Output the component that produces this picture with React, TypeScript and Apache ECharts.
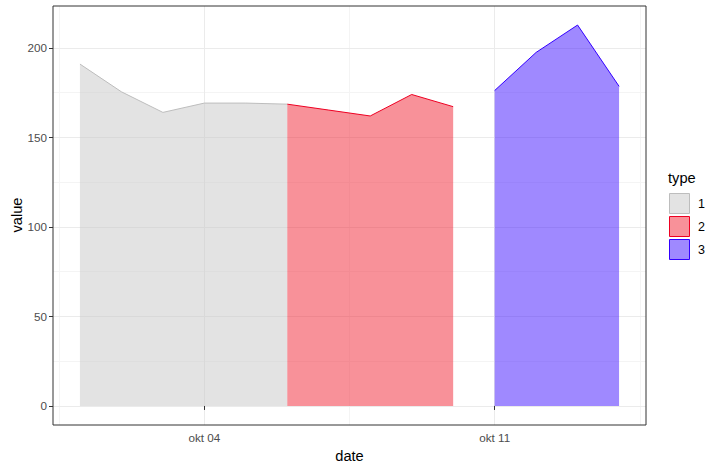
import React, { useEffect, useRef } from "react";
import * as echarts from "echarts";

const type1Dates = ["2020-10-01", "2020-10-02", "2020-10-03", "2020-10-04", "2020-10-05", "2020-10-06"];
const type1Values = [191, 175.5, 164, 169.2, 169.2, 168.6];
const type2Dates = ["2020-10-06", "2020-10-07", "2020-10-08", "2020-10-09", "2020-10-10"];
const type2Values = [168.6, 165.3, 162, 174, 167.2];
const type3Dates = ["2020-10-11", "2020-10-12", "2020-10-13", "2020-10-14"];
const type3Values = [176.2, 197.5, 212.8, 178.6];

const typeNames = ["1", "2", "3"];
const xTickDates = ["2020-10-04", "2020-10-11"];
const xMinorDates = ["2020-09-30T12:00:00Z", "2020-10-07T12:00:00Z", "2020-10-14T12:00:00Z"];
const yTicks = [0, 50, 100, 150, 200];
const yMinor = [25, 75, 125, 175, 225];

const fillColors = ["rgba(200,200,200,0.5)", "rgba(242,36,52,0.5)", "rgba(64,20,255,0.5)"];
const lineColors = ["#bdbdbd", "#ee0022", "#3300ff"];

const monthAbbr = ["jan", "feb", "mar", "apr", "maj", "jun", "jul", "aug", "sep", "okt", "nov", "dec"];
const ts = (s: string) => (s.length <= 10 ? Date.parse(s + "T00:00:00Z") : Date.parse(s));

export default function App() {
  const ref = useRef<HTMLDivElement>(null);
  useEffect(() => {
    if (!ref.current) return;
    const chart = echarts.init(ref.current, undefined, { renderer: "svg" });
    const allDates = [...type1Dates, ...type2Dates, ...type3Dates].map(ts);
    const dMin = Math.min(...allDates);
    const dMax = Math.max(...allDates);
    const xPad = (dMax - dMin) * 0.05;
    const allVals = [0, ...type1Values, ...type2Values, ...type3Values];
    const vMin = Math.min(...allVals);
    const vMax = Math.max(...allVals);
    const yPad = (vMax - vMin) * 0.05;
    const xMin = dMin - xPad;
    const xMax = dMax + xPad;
    const yMin = vMin - yPad;
    const yMax = vMax + yPad;
    const font = "Liberation Sans, Arial, sans-serif";
    const sets = [
      [type1Dates, type1Values],
      [type2Dates, type2Values],
      [type3Dates, type3Values],
    ];
    const series = sets.map(([d, v], i) => ({
      name: typeNames[i],
      type: "line",
      xAxisIndex: 0,
      yAxisIndex: 0,
      data: (d as string[]).map((s, j) => [ts(s), (v as number[])[j]]),
      showSymbol: false,
      symbol: "none",
      lineStyle: { color: lineColors[i], width: 1 },
      areaStyle: { color: fillColors[i], opacity: 1, origin: 0 },
      itemStyle: { color: lineColors[i] },
      z: 3,
    }));
    const graphic: any[] = [
      { type: "text", left: 668, top: 170, style: { text: "type", fontSize: 14.67, fontFamily: font, fill: "#000" } },
      {
        type: "text",
        x: 17,
        y: 215,
        rotation: Math.PI / 2,
        style: { text: "value", fontSize: 14.67, fontFamily: font, fill: "#000", align: "center", verticalAlign: "middle" },
      },
    ];
    typeNames.forEach((n, i) => {
      const y = 193 + i * 23;
      graphic.push({
        type: "rect",
        shape: { x: 669.5, y: y + 0.5, width: 20, height: 20 },
        style: { fill: fillColors[i], stroke: lineColors[i], lineWidth: 1 },
      });
      graphic.push({
        type: "text",
        x: 698,
        y: y + 11,
        style: { text: n, fontSize: 12.5, fontFamily: font, fill: "#000", verticalAlign: "middle" },
      });
    });
    chart.setOption({
      animation: false,
      backgroundColor: "#fff",
      grid: {
        left: 53,
        top: 6,
        width: 593,
        height: 419,
        containLabel: false,
        outerBoundsMode: "none",
        show: true,
        borderColor: "#333",
        borderWidth: 1,
        backgroundColor: "transparent",
        z: 10,
      },
      xAxis: [
        {
          type: "value",
          min: xMin,
          max: xMax,
          name: "date",
          nameLocation: "middle",
          nameGap: 23,
          nameTextStyle: { fontSize: 14.67, fontFamily: font, color: "#000" },
          axisLine: { show: false },
          axisTick: { show: true, length: 4, lineStyle: { color: "#333" }, customValues: xTickDates.map(ts) },
          axisLabel: {
            customValues: xTickDates.map(ts),
            fontSize: 11.7,
            fontFamily: font,
            color: "#4d4d4d",
            margin: 6,
            formatter: (v: number) => {
              const d = new Date(v);
              return monthAbbr[d.getUTCMonth()] + " " + String(d.getUTCDate()).padStart(2, "0");
            },
          },
          splitLine: { show: true, lineStyle: { color: "#ebebeb", width: 1 } },
          z: 1,
        },
        {
          type: "value",
          min: xMin,
          max: xMax,
          show: true,
          axisLine: { show: false },
          axisTick: { show: false, customValues: xMinorDates.map(ts) },
          axisLabel: { show: false, customValues: xMinorDates.map(ts) },
          splitLine: { show: true, lineStyle: { color: "#f4f4f4", width: 1 } },
          z: 0,
        },
      ],
      yAxis: [
        {
          type: "value",
          min: yMin,
          max: yMax,
          axisLine: { show: false },
          axisTick: { show: true, length: 4, lineStyle: { color: "#333" }, customValues: yTicks },
          axisLabel: { customValues: yTicks, fontSize: 11.7, fontFamily: font, color: "#4d4d4d", margin: 6 },
          splitLine: { show: true, lineStyle: { color: "#ebebeb", width: 1 } },
          z: 1,
        },
        {
          type: "value",
          min: yMin,
          max: yMax,
          show: true,
          axisLine: { show: false },
          axisTick: { show: false, customValues: yMinor },
          axisLabel: { show: false, customValues: yMinor },
          splitLine: { show: true, lineStyle: { color: "#f4f4f4", width: 1 } },
          z: 0,
        },
      ],
      series,
      graphic,
    });
    return () => chart.dispose();
  }, []);
  return <div ref={ref} style={{ width: 720, height: 470, position: "absolute", left: 0, top: 0 }} />;
}
